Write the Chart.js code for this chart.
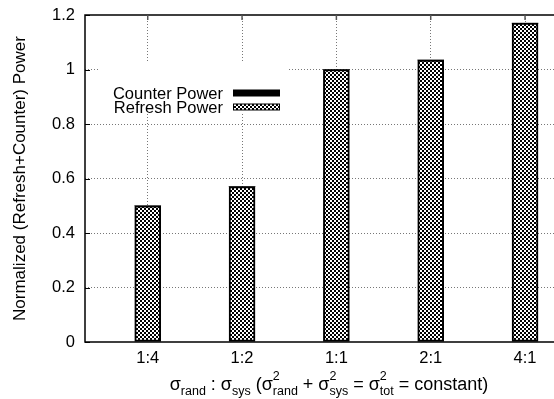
<!DOCTYPE html>
<html>
<head>
<meta charset="utf-8">
<script src="https://cdn.jsdelivr.net/npm/chart.js@4.4.1/dist/chart.umd.min.js"></script>
<style>
  html, body { margin: 0; padding: 0; background: #fff; }
</style>
</head>
<body>
<canvas id="powerChart" width="554" height="399"></canvas>
<script>
// values
const categories = ['1:4', '1:2', '1:1', '2:1', '4:1'];
const refreshPower = [0.5, 0.57, 1.0, 1.035, 1.17];
const counterPower = [0, 0, 0, 0, 0];
const seriesLabels = ['Counter Power', 'Refresh Power'];
const yAxisLabel = 'Normalized (Refresh+Counter) Power';

const FONT = '"Liberation Sans", Arial, Helvetica, sans-serif';
const FONT_SIZE = 16.5;

const canvas = document.getElementById('powerChart');
const ctx = canvas.getContext('2d');

// gnuplot-ish checkered fill
function makeChecker(size) {
    const tile = document.createElement('canvas');
    tile.width = size * 2;
    tile.height = size * 2;
    const g = tile.getContext('2d');
    g.fillStyle = '#fff';
    g.fillRect(0, 0, size * 2, size * 2);
    g.fillStyle = '#000';
    g.fillRect(0, 0, size, size);
    g.fillRect(size, size, size, size);
    return ctx.createPattern(tile, 'repeat');
}
const checker = makeChecker(2);

// frame + inward tick marks
const framePlugin = {
    id: 'frame',
    afterDatasetsDraw(chart) {
        const c = chart.ctx;
        const a = chart.chartArea;
        c.save();
        c.strokeStyle = '#000';
        c.lineWidth = 1.5;
        c.beginPath();
        c.moveTo(a.right + 2, a.top);
        c.lineTo(a.left, a.top);
        c.lineTo(a.left, a.bottom);
        c.lineTo(a.right + 2, a.bottom);
        c.stroke();

        c.lineWidth = 1;
        const ys = chart.scales.y;
        ys.ticks.forEach(t => {
            const py = Math.round(ys.getPixelForValue(t.value)) + 0.5;
            c.beginPath();
            c.moveTo(a.left, py);
            c.lineTo(a.left + 5, py);
            c.stroke();
        });
        const xs = chart.scales.x;
        c.strokeStyle = '#555';
        c.lineWidth = 1.5;
        xs.ticks.forEach(t => {
            const px = xs.getPixelForValue(t.value);
            c.beginPath();
            c.moveTo(px, a.top);
            c.lineTo(px, a.top + 5);
            c.stroke();
        });
        c.restore();
    }
};

// key drawn inside the plot, text right-aligned, sample box to the right
const keyPlugin = {
    id: 'key',
    afterDraw(chart) {
        const c = chart.ctx;
        const a = chart.chartArea;
        const textRight = a.left + 138;
        const boxLeft = a.left + 148;
        const boxW = 47;
        const rows = [a.top + 78, a.top + 92];
        c.save();
        c.fillStyle = '#fff';
        c.fillRect(a.left + 15, a.top + 47, 188, 52);
        c.font = FONT_SIZE + 'px ' + FONT;
        c.textAlign = 'right';
        c.textBaseline = 'middle';
        c.fillStyle = '#000';
        seriesLabels.forEach((lbl, i) => {
            c.fillText(lbl, textRight, rows[i] + 1);
        });
        c.fillStyle = '#000';
        c.fillRect(boxLeft, rows[0] - 3.5, boxW, 7);
        c.fillRect(boxLeft, rows[1] - 3.5, boxW, 7);
        c.fillStyle = checker;
        c.fillRect(boxLeft + 1, rows[1] - 2.5, boxW - 2, 5);
        c.restore();
    }
};

// x axis title with sub/superscripts
const xTitleParts = [
    { t: 'σ' }, { sub: 'rand' }, { t: ' : σ' }, { sub: 'sys' },
    { t: ' (σ' }, { sup: '2', sub: 'rand' }, { t: ' + σ' }, { sup: '2', sub: 'sys' },
    { t: ' = σ' }, { sup: '2', sub: 'tot' }, { t: ' = constant)' }
];
const xTitlePlugin = {
    id: 'xTitle',
    afterDraw(chart) {
        const c = chart.ctx;
        const main = '18px ' + FONT;
        const small = '12.5px ' + FONT;
        const baseY = 390;
        const widths = xTitleParts.map(p => {
            if (p.t) { c.font = main; return c.measureText(p.t).width; }
            c.font = small;
            return Math.max(p.sub ? c.measureText(p.sub).width : 0, p.sup ? c.measureText(p.sup).width : 0);
        });
        const total = widths.reduce((s, w) => s + w, 0);
        let x = 329 - total / 2;
        c.save();
        c.fillStyle = '#000';
        c.textAlign = 'left';
        c.textBaseline = 'alphabetic';
        xTitleParts.forEach((p, i) => {
            if (p.t) {
                c.font = main;
                c.fillText(p.t, x, baseY);
            } else {
                c.font = small;
                if (p.sub) c.fillText(p.sub, x, baseY + 5);
                if (p.sup) c.fillText(p.sup, x, baseY - 10);
            }
            x += widths[i];
        });
        c.restore();
    }
};

const isFrameTick = v => v < 0.01 || v > 1.19;

new Chart(canvas, {
    type: 'bar',
    data: {
        datasets: [
            {
                label: seriesLabels[1],
                data: refreshPower.map((v, i) => ({ x: i, y: v })),
                backgroundColor: checker,
                borderColor: '#000',
                borderWidth: 2,
                borderSkipped: false,
                barThickness: 26,
                stack: 'power'
            },
            {
                label: seriesLabels[0],
                data: counterPower.map((v, i) => ({ x: i, y: v })),
                backgroundColor: '#000',
                borderWidth: 0,
                barThickness: 26,
                stack: 'power'
            }
        ]
    },
    options: {
        responsive: false,
        animation: false,
        devicePixelRatio: 1,
        layout: { padding: { top: 15, right: 0, left: 0, bottom: 0 } },
        plugins: {
            legend: { display: false },
            tooltip: { enabled: false }
        },
        scales: {
            x: {
                type: 'linear',
                min: -0.665,
                max: 4.307,
                offset: false,
                afterBuildTicks: s => { s.ticks = categories.map((c, i) => ({ value: i })); },
                afterFit: s => { s.height = 57; s.paddingLeft = 0; s.paddingRight = 0; },
                ticks: {
                    callback: v => categories[v] ?? '',
                    font: { family: FONT, size: FONT_SIZE },
                    color: '#000',
                    padding: 7,
                    maxRotation: 0
                },
                grid: { color: '#777', lineWidth: 1, drawTicks: false, offset: false },
                border: { display: false, dash: [1, 2] }
            },
            y: {
                stacked: true,
                min: 0,
                max: 1.2,
                afterFit: s => { s.width = 85; s.paddingTop = 0; s.paddingBottom = 0; },
                ticks: {
                    stepSize: 0.2,
                    callback: v => String(Number(v.toFixed(1))),
                    font: { family: FONT, size: FONT_SIZE },
                    color: '#000',
                    padding: 10
                },
                grid: {
                    color: c => isFrameTick(c.tick.value) ? 'rgba(0,0,0,0)' : '#777',
                    lineWidth: 1,
                    drawTicks: false
                },
                border: { display: false, dash: [1, 2] },
                title: {
                    display: true,
                    text: yAxisLabel,
                    font: { family: FONT, size: 17 },
                    color: '#000',
                    padding: { top: 10, bottom: 0 }
                }
            }
        }
    },
    plugins: [framePlugin, keyPlugin, xTitlePlugin]
});
</script>
</body>
</html>
